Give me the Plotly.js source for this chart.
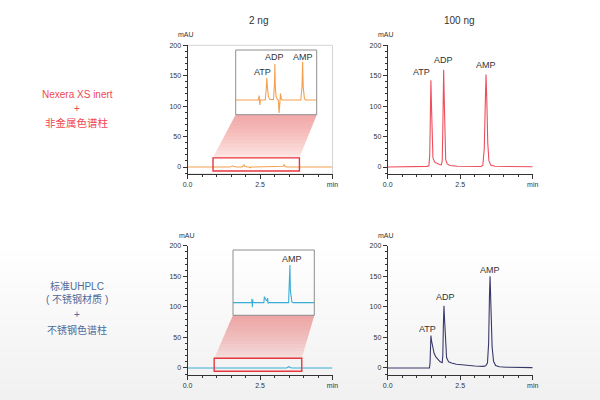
<!DOCTYPE html>
<html><head><meta charset="utf-8">
<script src="https://cdn.plot.ly/plotly-3.0.1.min.js"></script>
<style>html,body{margin:0;padding:0;background:#fff}#chart{width:600px;height:400px}</style>
</head><body><div id="chart"></div>
<script>
// ---------- data ----------
const columnTitles = ['2 ng', '100 ng'];
const rowLabelsInert = ['Nexera XS inert', '+', '非金属色谱柱'];
const rowLabelsSteel = ['标准UHPLC', '( 不锈钢材质 )', '+', '不锈钢色谱柱'];
const peakNames = ['ATP', 'ADP', 'AMP'];
const xTickVals = [0, 2.5, 5];
const xTickText = ['0.0', '2.5', 'min'];
const yTickVals = [0, 50, 100, 150, 200];
const yUnit = 'mAU';

// Nexera XS inert, 2 ng
const inert2ngTime   = [0, 1.12, 1.17, 1.2, 1.23, 1.47, 1.52, 1.55, 1.58, 1.63, 1.7, 1.88, 1.93, 1.95, 1.97, 2.01, 2.06, 2.12, 2.16, 2.19, 2.23, 2.27, 2.32, 3.24, 3.3, 3.33, 3.36, 3.42, 3.5, 5];
const inert2ngSignal = [0, 0, 0.4, -0.45, 0, 0, 1.0, 2.0, 1.1, 0.3, 0.05, 0.05, 1.5, 3.3, 1.2, 0.3, 0.1, 0, -1.2, 0, 0.6, 0.1, 0, 0, 1.2, 3.5, 1.2, 0.1, 0, 0];
// Nexera XS inert, 100 ng
const inert100ngTime   = [0, 1.1, 1.2, 1.35, 1.42, 1.45, 1.47, 1.49, 1.51, 1.53, 1.56, 1.62, 1.7, 1.78, 1.85, 1.88, 1.9, 1.93, 1.95, 1.97, 2.0, 2.05, 2.15, 2.4, 2.8, 3.22, 3.28, 3.33, 3.36, 3.39, 3.42, 3.45, 3.49, 3.56, 3.7, 4.2, 5];
const inert100ngSignal = [0, 0.3, 0.8, 1.0, 2.0, 20, 80, 142.6, 100, 40, 15, 8, 5.5, 4, 3.5, 10, 60, 160, 110, 40, 12, 5, 2.5, 1.2, 0.8, 0.8, 3, 30, 95, 152, 105, 40, 10, 3, 1.2, 0.5, 0.3];
// stainless UHPLC, 2 ng
const steel2ngTime   = [0, 1.15, 1.17, 1.19, 1.21, 1.23, 1.9, 1.93, 1.96, 2.0, 2.05, 2.1, 2.13, 2.16, 2.2, 3.42, 3.46, 3.5, 3.53, 3.57, 3.62, 3.7, 5];
const steel2ngSignal = [0, 0, 0.25, -0.3, 0.2, 0, 0, 0.4, 0.3, 0.3, 0.15, 0.12, 0.3, -0.05, 0, 0, 1.0, 2.5, 0.8, 0.3, 0.05, 0, 0];
// stainless UHPLC, 100 ng
const steel100ngTime   = [0, 1.44, 1.46, 1.48, 1.49, 1.51, 1.55, 1.6, 1.66, 1.72, 1.8, 1.88, 1.9, 1.92, 1.94, 1.96, 1.99, 2.03, 2.1, 2.2, 2.37, 2.72, 3.0, 3.3, 3.38, 3.44, 3.48, 3.51, 3.53, 3.56, 3.6, 3.65, 3.72, 3.85, 4.1, 5];
const steel100ngSignal = [0, 0, 8, 40, 53, 45, 33, 24, 18, 14, 10.5, 8.7, 20, 70, 102, 80, 40, 17, 10, 8, 6, 3.8, 3.2, 2.7, 3.5, 8, 40, 120, 150, 100, 35, 11, 4, 2, 1.2, 0.5];

// ---------- styling / layout ----------
const FONT = 'Liberation Sans, Arial, Noto Sans CJK SC, sans-serif';
const C_ORANGE = '#f5a04e', C_RED = '#ee4d5c', C_CYAN = '#3aaed6', C_NAVY = '#38386a';
const W = 600, H = 400;
const px = v => v / W, py = v => 1 - v / H;

const colX = [[187.5, 332.5], [387.7, 532.7]];
const rowY = [[45.3, 174], [245.8, 375]];
const Y_RANGE = [-11.5, 200];

function xAxis(col, anchor) {
  return {domain: [px(colX[col][0]), px(colX[col][1])], range: [0, 5], anchor: anchor,
    showline: true, linecolor: '#333', linewidth: 1, ticks: 'outside', ticklen: 4, tickwidth: 1, tickcolor: '#333',
    tickmode: 'array', tickvals: xTickVals, ticktext: xTickText,
    minor: {tickmode: 'linear', tick0: 0, dtick: 0.5, ticks: 'outside', ticklen: 2, tickcolor: '#333'},
    showgrid: false, zeroline: false, tickfont: {size: 7, color: '#333', family: FONT}, fixedrange: true};
}
function yAxis(row, anchor) {
  return {domain: [py(rowY[row][1]), py(rowY[row][0])], range: Y_RANGE, anchor: anchor,
    showline: true, linecolor: '#333', linewidth: 1, ticks: 'outside', ticklen: 4, tickwidth: 1, tickcolor: '#333',
    tickmode: 'array', tickvals: yTickVals,
    minor: {tickmode: 'linear', tick0: 0, dtick: 10, ticks: 'outside', ticklen: 2, tickcolor: '#333'},
    showgrid: false, zeroline: false, tickfont: {size: 7, color: '#333', family: FONT}, fixedrange: true};
}
function hidden(dom, range, anchor) {
  return {domain: dom, range: range, visible: false, fixedrange: true, anchor: anchor};
}

const insetTop = {x: [235.7, 316.7], y: [50, 114.7]};
const insetBot = {x: [233, 314.3], y: [250, 315.3]};

const line = (c) => ({color: c, width: 1.1});
const traces = [
  {x: inert2ngTime, y: inert2ngSignal, xaxis: 'x', yaxis: 'y', mode: 'lines', line: line(C_ORANGE)},
  {x: inert100ngTime, y: inert100ngSignal, xaxis: 'x2', yaxis: 'y2', mode: 'lines', line: line(C_RED)},
  {x: steel2ngTime, y: steel2ngSignal, xaxis: 'x3', yaxis: 'y3', mode: 'lines', line: line(C_CYAN)},
  {x: steel100ngTime, y: steel100ngSignal, xaxis: 'x4', yaxis: 'y4', mode: 'lines', line: line(C_NAVY)},
  {x: inert2ngTime, y: inert2ngSignal, xaxis: 'x5', yaxis: 'y5', mode: 'lines', line: line(C_ORANGE)},
  {x: steel2ngTime, y: steel2ngSignal, xaxis: 'x6', yaxis: 'y6', mode: 'lines', line: line(C_CYAN)}
].map(t => Object.assign(t, {hoverinfo: 'skip', showlegend: false}));

const shapes = [];
// soft background gradient at the bottom (stacked translucent layers)
const NB = 14;
for (let i = 0; i < NB; i++) {
  const y0 = 250 + i * (150 / NB);
  shapes.push({type: 'rect', xref: 'paper', yref: 'paper', x0: 0, x1: 1, y0: 0, y1: py(y0),
    fillcolor: 'rgba(222,230,241,0.04)', line: {width: 0}, layer: 'below'});
}
// light frame on top-left panel
shapes.push({type: 'rect', xref: 'paper', yref: 'paper', x0: px(colX[0][0]), x1: px(colX[0][1]), y0: py(rowY[0][1]), y1: py(rowY[0][0]),
  line: {color: '#d4d4d4', width: 1}, fillcolor: 'rgba(0,0,0,0)', layer: 'below'});

// zoom trapezoids: stacked translucent layers give a smooth gradient, darker near the inset
function trapezoid(inset, rect, ry) {
  const lerp = (a, b, t) => a + (b - a) * t;
  const yA = inset.y[1];
  // base layer
  shapes.push({type: 'path', xref: 'paper', yref: 'paper', layer: 'below',
    path: `M${px(inset.x[0])},${py(yA)} L${px(inset.x[1])},${py(yA)} L${px(rect[1])},${py(ry)} L${px(rect[0])},${py(ry)} Z`,
    fillcolor: 'rgba(244,150,140,0.18)', line: {width: 0}});
  const N = 12;
  for (let k = 1; k <= N; k++) {
    const t = k / N;
    const yB = lerp(yA, ry, t);
    const lB = lerp(inset.x[0], rect[0], t), rB = lerp(inset.x[1], rect[1], t);
    shapes.push({type: 'path', xref: 'paper', yref: 'paper', layer: 'below',
      path: `M${px(inset.x[0])},${py(yA)} L${px(inset.x[1])},${py(yA)} L${px(rB)},${py(yB)} L${px(lB)},${py(lB === lB ? yB : yB)} Z`,
      fillcolor: 'rgba(240,118,106,0.055)', line: {width: 0}});
  }
}
trapezoid(insetTop, [212.7, 299.3], 158);
trapezoid(insetBot, [214.3, 301.7], 358.3);

// inset frames
[insetTop, insetBot].forEach(b => shapes.push({type: 'rect', xref: 'paper', yref: 'paper',
  x0: px(b.x[0]), x1: px(b.x[1]), y0: py(b.y[1]), y1: py(b.y[0]),
  line: {color: '#8e8e8e', width: 1}, fillcolor: 'rgba(255,255,255,0)', layer: 'above'}));
// red zoom rectangles
shapes.push({type: 'rect', xref: 'x', yref: 'y', x0: 0.88, x1: 3.86, y0: -6.5, y1: 15, line: {color: '#e8363f', width: 1.4}, layer: 'above'});
shapes.push({type: 'rect', xref: 'x3', yref: 'y3', x0: 0.92, x1: 3.94, y0: -5.4, y1: 15.9, line: {color: '#e8363f', width: 1.4}, layer: 'above'});

const annotations = [];
const ann = (o) => annotations.push(Object.assign({showarrow: false, xanchor: 'center', yanchor: 'middle'}, o));
// column titles
ann({xref: 'paper', yref: 'paper', x: px(258.5), y: py(21), text: columnTitles[0], font: {size: 10, color: '#333', family: FONT}});
ann({xref: 'paper', yref: 'paper', x: px(459), y: py(20), text: columnTitles[1], font: {size: 10, color: '#333', family: FONT}});
// row labels
const inertY = [94, 109, 123];
rowLabelsInert.forEach((t, i) => ann({xref: 'paper', yref: 'paper', x: px(77), y: py(inertY[i]), text: t,
  font: {size: i === 2 ? 10.5 : 10, color: '#ef4654', family: FONT}}));
const steelY = [286, 299, 314, 330];
rowLabelsSteel.forEach((t, i) => ann({xref: 'paper', yref: 'paper', x: px(77), y: py(steelY[i]), text: t,
  font: {size: 10, color: '#4d6c9b', family: FONT}}));
// units
[[186, 34.5], [385.5, 34.5], [186.5, 235], [385.8, 235.3]].forEach(p =>
  ann({xref: 'paper', yref: 'paper', x: px(p[0]), y: py(p[1]), text: yUnit, font: {size: 7, color: '#333', family: FONT}}));
// peak labels
const pf = {size: 9, color: '#333', family: FONT};
[[1.17, 155.6], [1.93, 175.8], [3.39, 167.6]].forEach((p, i) => ann({xref: 'x2', yref: 'y2', x: p[0], y: p[1], text: peakNames[i], font: pf}));
[[1.38, 63.3], [1.99, 116.9], [3.53, 160.9]].forEach((p, i) => ann({xref: 'x4', yref: 'y4', x: p[0], y: p[1], text: peakNames[i], font: pf}));
[[1.32, 2.54], [1.91, 3.91], [3.33, 3.91]].forEach((p, i) => ann({xref: 'x5', yref: 'y5', x: p[0], y: p[1], text: peakNames[i], font: pf}));
ann({xref: 'x6', yref: 'y6', x: 3.61, y: 2.87, text: peakNames[2], font: pf});

const layout = {
  width: W, height: H, margin: {l: 0, r: 0, t: 0, b: 0},
  paper_bgcolor: '#ffffff', plot_bgcolor: 'rgba(0,0,0,0)', showlegend: false,
  font: {family: FONT, color: '#333'},
  xaxis: xAxis(0, 'y'), yaxis: yAxis(0, 'x'),
  xaxis2: xAxis(1, 'y2'), yaxis2: yAxis(0, 'x2'),
  xaxis3: xAxis(0, 'y3'), yaxis3: yAxis(1, 'x3'),
  xaxis4: xAxis(1, 'y4'), yaxis4: yAxis(1, 'x4'),
  xaxis5: hidden([px(insetTop.x[0]), px(insetTop.x[1])], [0, 4.03], 'y5'),
  yaxis5: hidden([py(insetTop.y[1]), py(insetTop.y[0])], [-1.35, 4.58], 'x5'),
  xaxis6: hidden([px(insetBot.x[0]), px(insetBot.x[1])], [0, 5], 'y6'),
  yaxis6: hidden([py(insetBot.y[1]), py(insetBot.y[0])], [-0.84, 3.5], 'x6'),
  shapes: shapes, annotations: annotations
};
Plotly.newPlot('chart', traces, layout, {staticPlot: true, displayModeBar: false});
</script></body></html>
